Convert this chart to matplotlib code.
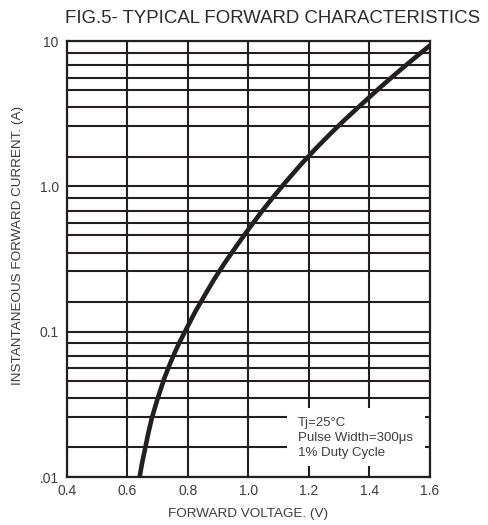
import matplotlib
matplotlib.use('Agg')
import matplotlib.pyplot as plt
from matplotlib.patches import Rectangle
from matplotlib.ticker import NullFormatter

plt.rcParams['font.family'] = ['Liberation Sans', 'DejaVu Sans']

# Forward voltage (V) vs instantaneous forward current (A)
voltage = [0.640, 0.648, 0.658, 0.669, 0.680, 0.698, 0.723, 0.738, 0.755, 0.770,
           0.790, 0.823, 0.856, 0.888, 0.921, 0.962, 1.002, 1.041, 1.080, 1.127,
           1.174, 1.222, 1.271, 1.320, 1.370, 1.435, 1.501, 1.551, 1.600]
current = [0.0100, 0.0124, 0.0156, 0.0201, 0.0252, 0.0338, 0.0486, 0.0583, 0.0708, 0.0828,
           0.100, 0.136, 0.179, 0.232, 0.296, 0.393, 0.513, 0.659, 0.835, 1.095,
           1.418, 1.815, 2.302, 2.892, 3.605, 4.786, 6.297, 7.686, 9.326]

x_ticks = [0.4, 0.6, 0.8, 1.0, 1.2, 1.4, 1.6]
x_labels = ['0.4', '0.6', '0.8', '1.0', '1.2', '1.4', '1.6']
y_ticks = [0.01, 0.1, 1.0, 10]
y_labels = ['.01', '0.1', '1.0', '10']
# grid lines inside each decade, as spaced on the original sheet
decade_lines = [8.3, 6.8, 5.6, 4.6, 3.5, 2.6, 1.6]

ink = '#231f20'
label_color = '#3c3c3c'

fig = plt.figure(figsize=(4.88, 5.25), dpi=100)
ax = fig.add_axes([0.1373, 0.0914, 0.881 - 0.1373, 0.9219 - 0.0914])

ax.set_yscale('log')
ax.set_xlim(0.4, 1.6)
ax.set_ylim(0.01, 10)

ax.set_xticks(x_ticks)
ax.set_xticklabels(x_labels)
ax.set_yticks(y_ticks)
ax.set_yticklabels(y_labels)
minor_y = [m * d for d in [0.01, 0.1, 1.0] for m in decade_lines]
ax.set_yticks(minor_y, minor=True)
ax.yaxis.set_minor_formatter(NullFormatter())
ax.tick_params(which='both', length=0, labelsize=10, labelcolor=label_color)
ax.tick_params(axis='x', pad=5)
ax.tick_params(axis='y', pad=6)

ax.grid(True, which='both', color=ink, linewidth=1.5)
ax.set_axisbelow(True)
for sp in ax.spines.values():
    sp.set_color(ink)
    sp.set_linewidth(1.6)

ax.plot(voltage, current, color=ink, linewidth=3.3, solid_capstyle='butt', zorder=3)

# white panel with test conditions
ax.add_patch(Rectangle((0.606, 0.025), 0.38, 0.133, transform=ax.transAxes,
                       facecolor='white', edgecolor='none', zorder=2.5))
ax.text(0.636, 0.0897, 'Tj=25\u00b0C\nPulse Width=300\u03bcs\n1% Duty Cycle',
        transform=ax.transAxes, fontsize=9.5, color=label_color, linespacing=1.3,
        va='center', ha='left', zorder=4)

ax.set_xlabel('FORWARD VOLTAGE. (V)', fontsize=9.7, color=label_color)
ax.xaxis.set_label_coords(0.5, -0.072)
ax.set_ylabel('INSTANTANEOUS FORWARD CURRENT. (A)', fontsize=9.7, color=label_color)
ax.yaxis.set_label_coords(-0.118, 0.53)
fig.text(0.558, 0.965, 'FIG.5- TYPICAL FORWARD CHARACTERISTICS', ha='center', va='center',
         fontsize=13.4, color='#2a2a2a')

plt.savefig('out.png', dpi=100)
plt.close(fig)
